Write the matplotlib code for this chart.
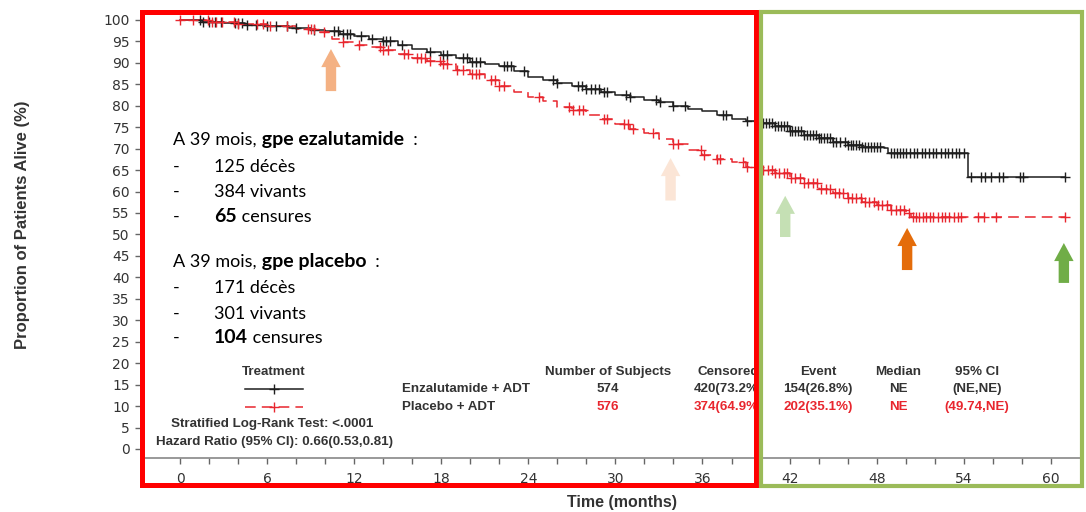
import numpy as np
import matplotlib.pyplot as plt
from matplotlib.patches import Rectangle
from matplotlib.lines import Line2D

W, H = 1086, 512

# Kaplan-Meier steps: time (months) and % alive after each step
enza_t = [0, 1.5, 3, 4.5, 6, 7.5, 9, 10, 11, 12, 13, 14, 15, 16, 17, 18, 19, 20,
          21, 22, 23, 24, 25, 26, 27, 28, 29, 30, 31, 32, 33, 34, 35, 36, 37, 38,
          39, 40, 41, 42, 43, 44, 45, 46, 47, 48.5, 48.8, 54.3]
enza_s = [100, 99.6, 99.3, 98.9, 98.5, 98.1, 97.7, 97.3, 96.8, 96.2, 95.6, 95.0,
          94.2, 93.2, 92.5, 91.8, 91.0, 90.2, 89.6, 89.2, 88.0, 86.8, 86.0, 85.4,
          84.6, 84.0, 83.2, 82.6, 82.0, 81.3, 80.8, 80.0, 79.3, 78.7, 77.8, 77.0,
          76.5, 75.9, 75.2, 74.2, 73.2, 72.4, 71.6, 70.8, 70.4, 70.2, 69.0, 63.3]
enza_cens = [1.4, 1.6, 2.0, 2.4, 2.8, 3.8, 4.0, 4.3, 4.6, 5.2, 6.0, 6.6, 7.4, 8.0,
             9.2, 10.6, 10.9, 11.2, 11.5, 11.7, 12.5, 13.2, 14.0, 14.2, 14.5, 15.3,
             17.2, 18.1, 18.4, 19.5, 19.8, 20.1, 20.4, 20.7, 22.3, 22.5, 22.8, 23.7,
             25.7, 26.0, 27.4, 27.7, 28.0, 28.3, 28.6, 28.9, 29.2, 29.4, 30.7, 31.0,
             32.8, 33.1, 34.0, 34.8, 37.4, 37.6, 39.1, 39.8, 40.2, 40.4, 40.6, 40.8,
             41.0, 41.2, 41.4, 41.6, 41.8, 42.0, 42.2, 42.4, 42.6, 42.8, 43.0, 43.2,
             43.4, 43.6, 43.8, 44.0, 44.2, 44.4, 44.6, 44.8, 45.0, 45.2, 45.5, 45.8,
             46.0, 46.2, 46.4, 46.6, 46.8, 47.0, 47.2, 47.4, 47.6, 47.8, 48.0, 48.2,
             49.0, 49.2, 49.4, 49.6, 49.8, 50.0, 50.3, 50.6, 50.8, 51.1, 51.3, 51.6,
             51.9, 52.1, 52.4, 52.7, 52.9, 53.2, 53.5, 53.7, 54.0, 54.5, 55.2, 55.5,
             55.9, 56.4, 56.7, 57.9, 58.1, 61.0]

plac_t = [0, 2, 4, 6, 8, 9.5, 10.5, 11, 12, 13, 14, 15, 16, 17, 18, 19, 20, 21,
          22, 23, 24, 25, 26, 27, 28, 29, 30, 31, 32, 33, 34, 35, 36, 37, 38, 39,
          40, 41, 42, 43, 44, 45, 46, 47, 48, 49, 50, 50.4]
plac_s = [100, 99.6, 99.1, 98.6, 97.9, 97.2, 95.6, 94.8, 94.2, 93.6, 93.0, 92.0,
          91.0, 90.4, 89.6, 88.4, 87.3, 86.0, 84.6, 83.2, 82.0, 81.0, 79.8, 79.0,
          77.8, 76.8, 75.8, 74.6, 73.6, 72.2, 71.0, 69.6, 68.6, 67.6, 66.8, 65.8,
          65.0, 64.2, 63.2, 62.0, 60.6, 59.6, 58.6, 57.6, 56.8, 55.8, 55.0, 54.0]
plac_cens = [0.0, 0.9, 1.9, 2.2, 2.5, 2.9, 3.7, 4.0, 5.3, 5.7, 6.2, 7.4, 8.8, 9.0,
             9.2, 9.9, 11.2, 12.3, 13.8, 14.0, 14.3, 15.4, 15.7, 16.3, 16.6, 16.9,
             17.2, 17.9, 18.1, 18.4, 19.1, 19.5, 20.1, 20.4, 20.6, 21.4, 21.7, 22.0,
             22.3, 24.7, 26.8, 27.1, 27.5, 27.8, 29.2, 29.4, 30.6, 30.9, 31.2, 32.6,
             34.0, 34.3, 35.9, 36.1, 37.0, 37.2, 38.8, 39.1, 39.6, 39.9, 40.2, 40.5,
             40.8, 41.0, 41.3, 41.6, 41.8, 42.1, 42.4, 42.7, 43.0, 43.3, 43.6, 43.9,
             44.2, 44.5, 44.8, 45.1, 45.4, 45.7, 46.0, 46.3, 46.6, 46.9, 47.2, 47.5,
             47.8, 48.1, 48.4, 48.7, 49.0, 49.3, 49.6, 49.9, 50.2, 50.5, 50.7, 50.9,
             51.2, 51.4, 51.7, 51.9, 52.2, 52.5, 52.7, 53.0, 53.3, 53.6, 53.8, 55.0,
             55.4, 56.2, 61.0]
last_followup = 61.0

arm_names = ["Enzalutamide + ADT", "Placebo + ADT"]
table_cols = ["Number of Subjects", "Censored", "Event", "Median", "95% CI"]
enza_row = ["574", "420(73.2%)", "154(26.8%)", "NE", "(NE,NE)"]
plac_row = ["576", "374(64.9%)", "202(35.1%)", "NE", "(49.74,NE)"]

x_ticks = np.arange(0, 61, 6)
y_ticks = np.arange(0, 101, 5)

BLACK = '#1e1e1e'
RED = '#e8262e'
GREY = '#333333'


def px(x, y):
    # image pixel -> figure fraction
    return x / W, 1 - y / H


def step_value(times, surv, t):
    i = np.searchsorted(times, t, side='right') - 1
    return np.asarray(surv)[i]


fig = plt.figure(figsize=(W / 100, H / 100), dpi=100)
ax = fig.add_axes([141 / W, (H - 458) / H, (1082 - 141) / W, (458 - 10) / H])
ax.set_xlim(-2.69, 62.15)
ax.set_ylim(-2.1, 102.3)

# curves
for t, s, c, col, ls in [(enza_t, enza_s, enza_cens, BLACK, '-'),
                         (plac_t, plac_s, plac_cens, RED, (0, (7, 4)))]:
    tt = np.append(t, last_followup)
    ss = np.append(s, s[-1])
    ax.step(tt, ss, where='post', color=col, lw=1.1, ls=ls, zorder=3)
    ax.plot(c, step_value(t, s, np.array(c)), ls='none', marker='+', ms=7,
            mew=1.0, color=col, zorder=4)

ax.set_xticks(x_ticks)
ax.set_xticks(np.arange(0, 61, 2), minor=True)
ax.set_yticks(y_ticks)
ax.tick_params(axis='both', which='both', direction='out', length=4,
               width=1, color='#666666', labelsize=10, labelcolor=GREY)
ax.tick_params(axis='x', pad=6)
ax.tick_params(axis='y', pad=4)
for side in ['top', 'right', 'left']:
    ax.spines[side].set_visible(False)
ax.spines['bottom'].set_color('#888888')
ax.spines['bottom'].set_linewidth(1.2)

fig.text(*px(23, 225), "Proportion of Patients Alive (%)", rotation=90,
         ha='center', va='center', fontsize=12, fontweight='bold',
         color=GREY, family='Liberation Sans')
fig.text(*px(622, 503), "Time (months)", ha='center', va='center',
         fontsize=11.5, fontweight='bold', color=GREY, family='Liberation Sans')

# legend block
tkw = dict(fontsize=9.6, fontweight='bold', family='Liberation Sans', va='center')
fig.text(*px(274, 372), "Treatment", ha='center', color=GREY, **tkw)
fig.add_artist(Line2D([245 / W, 303 / W], [1 - 389 / H] * 2, color=BLACK, lw=1.1))
fig.add_artist(Line2D([274 / W], [1 - 389 / H], color=BLACK, marker='+', ms=7, mew=1))
fig.add_artist(Line2D([245 / W, 303 / W], [1 - 407 / H] * 2, color=RED, lw=1.1,
                      ls=(0, (7, 4))))
fig.add_artist(Line2D([274 / W], [1 - 407 / H], color=RED, marker='+', ms=7, mew=1))
fig.text(*px(272, 424), "Stratified Log-Rank Test: <.0001", ha='center',
         color=GREY, **tkw)
fig.text(*px(274, 442), "Hazard Ratio (95% CI): 0.66(0.53,0.81)", ha='center',
         color=GREY, **tkw)

fig.text(*px(402, 389), arm_names[0], ha='left', color=GREY, **tkw)
fig.text(*px(402, 407), arm_names[1], ha='left', color=GREY, **tkw)
col_x = [608, 728, 818, 898, 977]
for cx, head, a, b in zip(col_x, table_cols, enza_row, plac_row):
    fig.text(*px(cx, 372), head, ha='center', color=GREY, **tkw)
    fig.text(*px(cx, 389), a, ha='center', color=GREY, **tkw)
    fig.text(*px(cx, 407), b, ha='center', color=RED, **tkw)

# summary notes at 39 months
nkw = dict(family='Lato', color='black')
size = {'normal': 13, 'bold': 14}


def rich(x, y, parts):
    t = fig.text(*px(x, y), parts[0][0], fontweight=parts[0][1],
                 fontsize=size[parts[0][1]], ha='left', va='baseline', **nkw)
    for s, w in parts[1:]:
        t = ax.annotate(s, xy=(1, 0), xycoords=t, ha='left', va='bottom',
                        fontweight=w, fontsize=size[w],
                        annotation_clip=False, **nkw)


notes = [
    (145, [("A 39 mois,", 'normal'), (" gpe ezalutamide", 'bold'), ("  :", 'normal')]),
    (172, None, [("125 décès", 'normal')]),
    (197, None, [("384 vivants", 'normal')]),
    (222, None, [("65", 'bold'), (" censures", 'normal')]),
    (267, [("A 39 mois,", 'normal'), (" gpe placebo", 'bold'), ("  :", 'normal')]),
    (293, None, [("171 décès", 'normal')]),
    (319, None, [("301 vivants", 'normal')]),
    (343, None, [("104", 'bold'), (" censures", 'normal')]),
]
for item in notes:
    if len(item) == 2:
        rich(173, item[0], item[1])
    else:
        fig.text(*px(173, item[0]), "-", ha='left', va='baseline',
                 fontsize=13, **nkw)
        rich(214, item[0], item[2])

# block arrows
arrow_x = [10.4, 33.8, 41.7, 50.1, 60.9]
arrow_tail = [83.4, 57.9, 49.4, 41.7, 38.7]
arrow_tip = [93.2, 67.8, 59.0, 51.5, 48.0]
arrow_col = ['#f4b183', '#fbe5d6', '#c5e0b4', '#e46c0a', '#70ad47']
for x, y0, y1, c in zip(arrow_x, arrow_tail, arrow_tip, arrow_col):
    ax.annotate('', xy=(x, y1), xytext=(x, y0),
                arrowprops=dict(arrowstyle='simple,head_length=13,head_width=14,tail_width=7.5',
                                mutation_scale=1, color=c, lw=0,
                                shrinkA=0, shrinkB=0), zorder=2)

# highlight frames
for (x0, y0, x1, y1), c, lw in [((142, 12, 756, 485), '#ff0000', 3.6),
                                ((761, 12, 1082, 486), '#9bbb59', 3.0)]:
    fig.add_artist(Rectangle((x0 / W, 1 - y1 / H), (x1 - x0) / W, (y1 - y0) / H,
                             fill=False, edgecolor=c, lw=lw, zorder=10,
                             transform=fig.transFigure))

fig.savefig('out.png', dpi=100)
